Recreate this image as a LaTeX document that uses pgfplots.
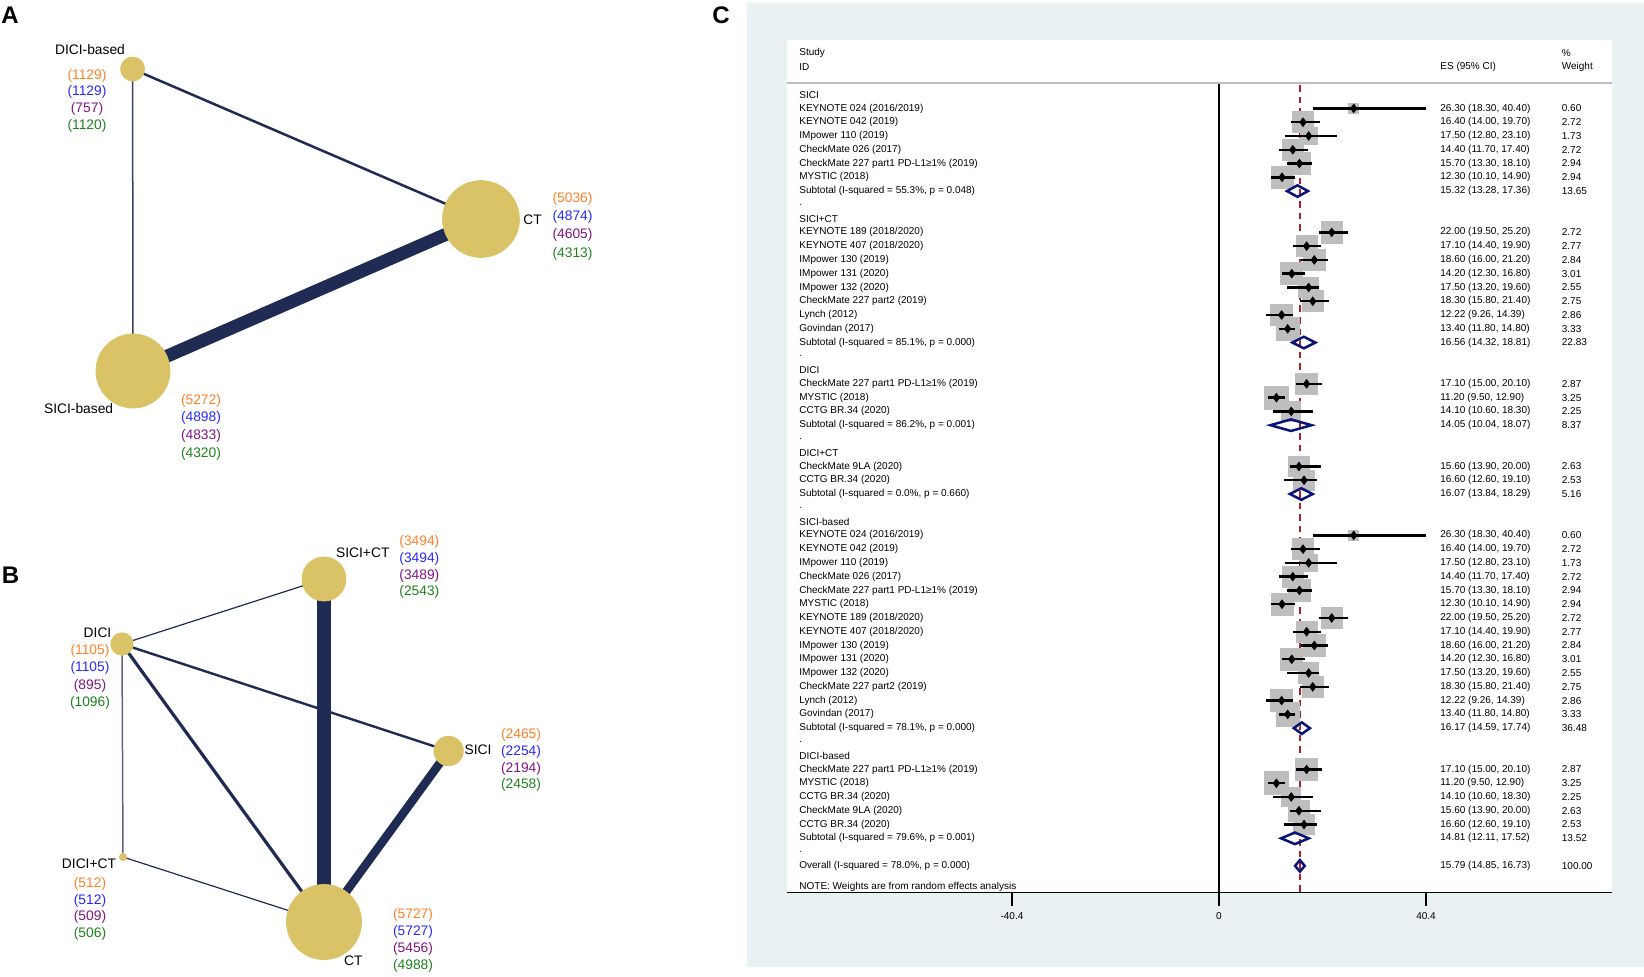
\documentclass[border=0pt]{standalone}
\usepackage{fontspec}
\setmainfont{Liberation Sans}
\usepackage{pgfplots}
\pgfplotsset{compat=1.18}
\usepackage{pgfplotstable}

\definecolor{nodecol}{RGB}{218,195,102}
\definecolor{edgecol}{RGB}{31,43,83}
\definecolor{edgelight}{RGB}{95,100,128}
\definecolor{cOr}{RGB}{255,127,39}
\definecolor{cBl}{RGB}{40,40,255}
\definecolor{cPu}{RGB}{130,20,130}
\definecolor{cGr}{RGB}{30,130,30}
\definecolor{bgC}{RGB}{233,241,243}
\definecolor{boxgray}{RGB}{190,190,190}
\definecolor{dnavy}{RGB}{10,20,120}
\definecolor{dred}{RGB}{165,35,45}

\pgfplotstableread{
x y r
132.6 69 12
481 219 38.4
133 371 37
}\nodesA

\pgfplotstableread{
x y r
324 579 22
122 644 11.2
448.6 751 14.7
123 857 3.6
324 922 37.5
}\nodesB

\pgfplotstableread{
row es lo hi w
1 26.30 18.30 40.40 0.60
2 16.40 14.00 19.70 2.72
3 17.50 12.80 23.10 1.73
4 14.40 11.70 17.40 2.72
5 15.70 13.30 18.10 2.94
6 12.30 10.10 14.90 2.94
10 22.00 19.50 25.20 2.72
11 17.10 14.40 19.90 2.77
12 18.60 16.00 21.20 2.84
13 14.20 12.30 16.80 3.01
14 17.50 13.20 19.60 2.55
15 18.30 15.80 21.40 2.75
16 12.22 9.26 14.39 2.86
17 13.40 11.80 14.80 3.33
21 17.10 15.00 20.10 2.87
22 11.20 9.50 12.90 3.25
23 14.10 10.60 18.30 2.25
27 15.60 13.90 20.00 2.63
28 16.60 12.60 19.10 2.53
32 26.30 18.30 40.40 0.60
33 16.40 14.00 19.70 2.72
34 17.50 12.80 23.10 1.73
35 14.40 11.70 17.40 2.72
36 15.70 13.30 18.10 2.94
37 12.30 10.10 14.90 2.94
38 22.00 19.50 25.20 2.72
39 17.10 14.40 19.90 2.77
40 18.60 16.00 21.20 2.84
41 14.20 12.30 16.80 3.01
42 17.50 13.20 19.60 2.55
43 18.30 15.80 21.40 2.75
44 12.22 9.26 14.39 2.86
45 13.40 11.80 14.80 3.33
49 17.10 15.00 20.10 2.87
50 11.20 9.50 12.90 3.25
51 14.10 10.60 18.30 2.25
52 15.60 13.90 20.00 2.63
53 16.60 12.60 19.10 2.53
}\forestdata

\tikzset{
  nl/.style={font=\fontsize{6.9}{8}\selectfont, inner sep=0pt, anchor=center},
  lab/.style={font=\fontsize{6.9}{8}\selectfont, inner sep=0pt, anchor=center, text=black},
  ftl/.style={font=\fontsize{5}{6}\selectfont, inner sep=0pt, anchor=west},
  pl/.style={font=\bfseries\fontsize{12}{14}\selectfont, inner sep=0pt, anchor=center}
}
\newcommand{\fr}[4]{%
  \node[ftl] at (axis cs:-81.97,#1) {#2};
  \node[ftl] at (axis cs:43.13,#1) {#3};
  \node[ftl] at (axis cs:66.84,#1) {#4};}

\begin{document}
\begin{tikzpicture}
\useasboundingbox (0pt,0pt) rectangle (822pt,488pt);
\fill[bgC] (373.35pt,486.35pt) rectangle (822pt,4.5pt);

% ---------------- Network panels A and B ----------------
\begin{axis}[at={(0pt,0pt)}, anchor=south west, scale only axis,
  width=822pt, height=488pt, xmin=0, xmax=1644, ymin=0, ymax=976,
  y dir=reverse, hide axis, clip=false, clip marker paths=true]
% A edges
\addplot[edgecol, line width=1.25pt] coordinates {(132.6,69) (481,219)};
\addplot[edgecol!90!white, line width=0.75pt] coordinates {(132.6,69) (133,371)};
\addplot[edgecol, line width=6.5pt] coordinates {(133,371) (481,219)};
% B edges
\addplot[edgecol, line width=0.6pt] coordinates {(122,644) (324,579)};
\addplot[edgecol, line width=1.2pt] coordinates {(122,644) (448.6,751)};
\addplot[edgecol, line width=1.6pt] coordinates {(122,644) (324,922)};
\addplot[edgelight, line width=0.75pt] coordinates {(122,644) (123,857)};
\addplot[edgecol, line width=0.6pt] coordinates {(123,857) (324,922)};
\addplot[edgecol, line width=6.75pt] coordinates {(324,579) (324,922)};
\addplot[edgecol, line width=4.25pt] coordinates {(448.6,751) (324,922)};
% nodes
\addplot[scatter, only marks, mark=*,
  scatter/use mapped color={draw=nodecol, fill=nodecol},
  visualization depends on={0.5*\thisrow{r} \as \rad},
  scatter/@pre marker code/.append style={/tikz/mark size=\rad}]
  table[x=x, y=y] {\nodesA};
\addplot[scatter, only marks, mark=*,
  scatter/use mapped color={draw=nodecol, fill=nodecol},
  visualization depends on={0.5*\thisrow{r} \as \rad},
  scatter/@pre marker code/.append style={/tikz/mark size=\rad}]
  table[x=x, y=y] {\nodesB};

% panel letters
\node[pl] at (axis cs:10,15.5) {A};
\node[pl] at (axis cs:10.5,575.6) {B};
\node[pl] at (axis cs:721,15) {C};

% A labels
\node[lab] at (axis cs:90,50) {DICI-based};
\node[nl,text=cOr] at (axis cs:87,75.5) {(1129)};
\node[nl,text=cBl] at (axis cs:87,92) {(1129)};
\node[nl,text=cPu] at (axis cs:87,109) {(757)};
\node[nl,text=cGr] at (axis cs:87,126) {(1120)};
\node[lab] at (axis cs:532.6,220) {CT};
\node[nl,text=cOr] at (axis cs:572.5,199) {(5036)};
\node[nl,text=cBl] at (axis cs:572.5,217) {(4874)};
\node[nl,text=cPu] at (axis cs:572.5,235) {(4605)};
\node[nl,text=cGr] at (axis cs:572.5,254) {(4313)};
\node[lab] at (axis cs:78.6,409) {SICI-based};
\node[nl,text=cOr] at (axis cs:201,400.5) {(5272)};
\node[nl,text=cBl] at (axis cs:201,418) {(4898)};
\node[nl,text=cPu] at (axis cs:201,436) {(4833)};
\node[nl,text=cGr] at (axis cs:201,454) {(4320)};

% B labels
\node[lab] at (axis cs:362.8,552.6) {SICI+CT};
\node[nl,text=cOr] at (axis cs:419.4,542) {(3494)};
\node[nl,text=cBl] at (axis cs:419.4,559) {(3494)};
\node[nl,text=cPu] at (axis cs:419.4,575.6) {(3489)};
\node[nl,text=cGr] at (axis cs:419.4,592.4) {(2543)};
\node[lab] at (axis cs:97.5,633) {DICI};
\node[nl,text=cOr] at (axis cs:90,651) {(1105)};
\node[nl,text=cBl] at (axis cs:90,668) {(1105)};
\node[nl,text=cPu] at (axis cs:90,685.7) {(895)};
\node[nl,text=cGr] at (axis cs:90,702.5) {(1096)};
\node[lab] at (axis cs:478,749.7) {SICI};
\node[nl,text=cOr] at (axis cs:521,735) {(2465)};
\node[nl,text=cBl] at (axis cs:521,751.8) {(2254)};
\node[nl,text=cPu] at (axis cs:521,768.5) {(2194)};
\node[nl,text=cGr] at (axis cs:521,785.3) {(2458)};
\node[lab] at (axis cs:89,864) {DICI+CT};
\node[nl,text=cOr] at (axis cs:90,884) {(512)};
\node[nl,text=cBl] at (axis cs:90,900.7) {(512)};
\node[nl,text=cPu] at (axis cs:90,917.4) {(509)};
\node[nl,text=cGr] at (axis cs:90,934) {(506)};
\node[lab] at (axis cs:353.3,960.4) {CT};
\node[nl,text=cOr] at (axis cs:413,915) {(5727)};
\node[nl,text=cBl] at (axis cs:413,932) {(5727)};
\node[nl,text=cPu] at (axis cs:413,949) {(5456)};
\node[nl,text=cGr] at (axis cs:413,965.7) {(4988)};
\end{axis}

% ---------------- Forest plot C ----------------
\begin{axis}[at={(393.65pt,41.65pt)}, anchor=south west, scale only axis,
  width=412.35pt, height=426.35pt,
  xmin=-84.25, xmax=76.7, ymin=-3.97, ymax=57.95, y dir=reverse,
  axis x line=bottom, axis y line=none,
  x axis line style={-, line width=0.75pt, black},
  xtick={-40.4,0,40.4}, xticklabels={-40.4,0,40.4},
  tick align=outside, major tick length=6.5pt,
  tick style={black, line width=0.75pt},
  xticklabel style={font=\fontsize{5}{6}\selectfont},
  /pgf/number format/assume math mode=true,
  axis background/.style={fill=white}, clip=false, clip marker paths=true]
% header line, zero line, overall dashed line
\addplot[black!25, line width=1pt] coordinates {(-84.25,-0.83) (76.7,-0.83)};
\addplot[black, line width=0.75pt] coordinates {(0,-0.8) (0,57.95)};
\addplot[dred, line width=0.75pt, dash pattern=on 3.3pt off 2.5pt] coordinates {(15.79,-0.7) (15.79,57.95)};
% weight boxes
\addplot[scatter, only marks, mark=square*,
  scatter/use mapped color={draw=boxgray, fill=boxgray},
  visualization depends on={3.2*sqrt(\thisrow{w}) \as \rad},
  scatter/@pre marker code/.append style={/tikz/mark size=\rad}]
  table[x=es, y=row] {\forestdata};
% CIs and point estimates
\addplot[black, only marks, mark=diamond*, mark size=2.1pt,
  error bars/.cd, x dir=both, x explicit, error mark=none,
  error bar style={line width=1.2pt, black}]
  table[x=es, y=row, x error plus expr=\thisrow{hi}-\thisrow{es},
        x error minus expr=\thisrow{es}-\thisrow{lo}] {\forestdata};
% pooled diamonds
\addplot[dnavy, line width=1.25pt, line join=miter] coordinates {(13.28,7) (15.32,6.58) (17.36,7) (15.32,7.42)} -- cycle;
\addplot[dnavy, line width=1.25pt, line join=miter] coordinates {(14.32,18) (16.56,17.58) (18.81,18) (16.56,18.42)} -- cycle;
\addplot[dnavy, line width=1.25pt, line join=miter] coordinates {(10.04,24) (14.05,23.58) (18.07,24) (14.05,24.42)} -- cycle;
\addplot[dnavy, line width=1.25pt, line join=miter] coordinates {(13.84,29) (16.07,28.58) (18.29,29) (16.07,29.42)} -- cycle;
\addplot[dnavy, line width=1.25pt, line join=miter] coordinates {(14.59,46) (16.17,45.58) (17.74,46) (16.17,46.42)} -- cycle;
\addplot[dnavy, line width=1.25pt, line join=miter] coordinates {(12.11,54) (14.81,53.58) (17.52,54) (14.81,54.42)} -- cycle;
\addplot[dnavy, line width=1.25pt, line join=miter] coordinates {(14.85,56) (15.79,55.58) (16.73,56) (15.79,56.42)} -- cycle;

% text
\fr{-3}{Study}{}{\%}
\fr{-2}{ID}{ES (95\% CI)}{Weight}
\fr{0}{SICI}{}{}
\fr{1}{KEYNOTE 024 (2016/2019)}{26.30 (18.30, 40.40)}{0.60}
\fr{2}{KEYNOTE 042 (2019)}{16.40 (14.00, 19.70)}{2.72}
\fr{3}{IMpower 110 (2019)}{17.50 (12.80, 23.10)}{1.73}
\fr{4}{CheckMate 026 (2017)}{14.40 (11.70, 17.40)}{2.72}
\fr{5}{CheckMate 227 part1 PD-L1≥1\% (2019)}{15.70 (13.30, 18.10)}{2.94}
\fr{6}{MYSTIC (2018)}{12.30 (10.10, 14.90)}{2.94}
\fr{7}{Subtotal (I-squared = 55.3\%, p = 0.048)}{15.32 (13.28, 17.36)}{13.65}
\fr{8}{.}{}{}
\fr{9}{SICI+CT}{}{}
\fr{10}{KEYNOTE 189 (2018/2020)}{22.00 (19.50, 25.20)}{2.72}
\fr{11}{KEYNOTE 407 (2018/2020)}{17.10 (14.40, 19.90)}{2.77}
\fr{12}{IMpower 130 (2019)}{18.60 (16.00, 21.20)}{2.84}
\fr{13}{IMpower 131 (2020)}{14.20 (12.30, 16.80)}{3.01}
\fr{14}{IMpower 132 (2020)}{17.50 (13.20, 19.60)}{2.55}
\fr{15}{CheckMate 227 part2 (2019)}{18.30 (15.80, 21.40)}{2.75}
\fr{16}{Lynch (2012)}{12.22 (9.26, 14.39)}{2.86}
\fr{17}{Govindan (2017)}{13.40 (11.80, 14.80)}{3.33}
\fr{18}{Subtotal (I-squared = 85.1\%, p = 0.000)}{16.56 (14.32, 18.81)}{22.83}
\fr{19}{.}{}{}
\fr{20}{DICI}{}{}
\fr{21}{CheckMate 227 part1 PD-L1≥1\% (2019)}{17.10 (15.00, 20.10)}{2.87}
\fr{22}{MYSTIC (2018)}{11.20 (9.50, 12.90)}{3.25}
\fr{23}{CCTG BR.34 (2020)}{14.10 (10.60, 18.30)}{2.25}
\fr{24}{Subtotal (I-squared = 86.2\%, p = 0.001)}{14.05 (10.04, 18.07)}{8.37}
\fr{25}{.}{}{}
\fr{26}{DICI+CT}{}{}
\fr{27}{CheckMate 9LA (2020)}{15.60 (13.90, 20.00)}{2.63}
\fr{28}{CCTG BR.34 (2020)}{16.60 (12.60, 19.10)}{2.53}
\fr{29}{Subtotal (I-squared = 0.0\%, p = 0.660)}{16.07 (13.84, 18.29)}{5.16}
\fr{30}{.}{}{}
\fr{31}{SICI-based}{}{}
\fr{32}{KEYNOTE 024 (2016/2019)}{26.30 (18.30, 40.40)}{0.60}
\fr{33}{KEYNOTE 042 (2019)}{16.40 (14.00, 19.70)}{2.72}
\fr{34}{IMpower 110 (2019)}{17.50 (12.80, 23.10)}{1.73}
\fr{35}{CheckMate 026 (2017)}{14.40 (11.70, 17.40)}{2.72}
\fr{36}{CheckMate 227 part1 PD-L1≥1\% (2019)}{15.70 (13.30, 18.10)}{2.94}
\fr{37}{MYSTIC (2018)}{12.30 (10.10, 14.90)}{2.94}
\fr{38}{KEYNOTE 189 (2018/2020)}{22.00 (19.50, 25.20)}{2.72}
\fr{39}{KEYNOTE 407 (2018/2020)}{17.10 (14.40, 19.90)}{2.77}
\fr{40}{IMpower 130 (2019)}{18.60 (16.00, 21.20)}{2.84}
\fr{41}{IMpower 131 (2020)}{14.20 (12.30, 16.80)}{3.01}
\fr{42}{IMpower 132 (2020)}{17.50 (13.20, 19.60)}{2.55}
\fr{43}{CheckMate 227 part2 (2019)}{18.30 (15.80, 21.40)}{2.75}
\fr{44}{Lynch (2012)}{12.22 (9.26, 14.39)}{2.86}
\fr{45}{Govindan (2017)}{13.40 (11.80, 14.80)}{3.33}
\fr{46}{Subtotal (I-squared = 78.1\%, p = 0.000)}{16.17 (14.59, 17.74)}{36.48}
\fr{47}{.}{}{}
\fr{48}{DICI-based}{}{}
\fr{49}{CheckMate 227 part1 PD-L1≥1\% (2019)}{17.10 (15.00, 20.10)}{2.87}
\fr{50}{MYSTIC (2018)}{11.20 (9.50, 12.90)}{3.25}
\fr{51}{CCTG BR.34 (2020)}{14.10 (10.60, 18.30)}{2.25}
\fr{52}{CheckMate 9LA (2020)}{15.60 (13.90, 20.00)}{2.63}
\fr{53}{CCTG BR.34 (2020)}{16.60 (12.60, 19.10)}{2.53}
\fr{54}{Subtotal (I-squared = 79.6\%, p = 0.001)}{14.81 (12.11, 17.52)}{13.52}
\fr{55}{.}{}{}
\fr{56}{Overall (I-squared = 78.0\%, p = 0.000)}{15.79 (14.85, 16.73)}{100.00}
\fr{57.5}{NOTE: Weights are from random effects analysis}{}{}
\end{axis}
\end{tikzpicture}
\end{document}
